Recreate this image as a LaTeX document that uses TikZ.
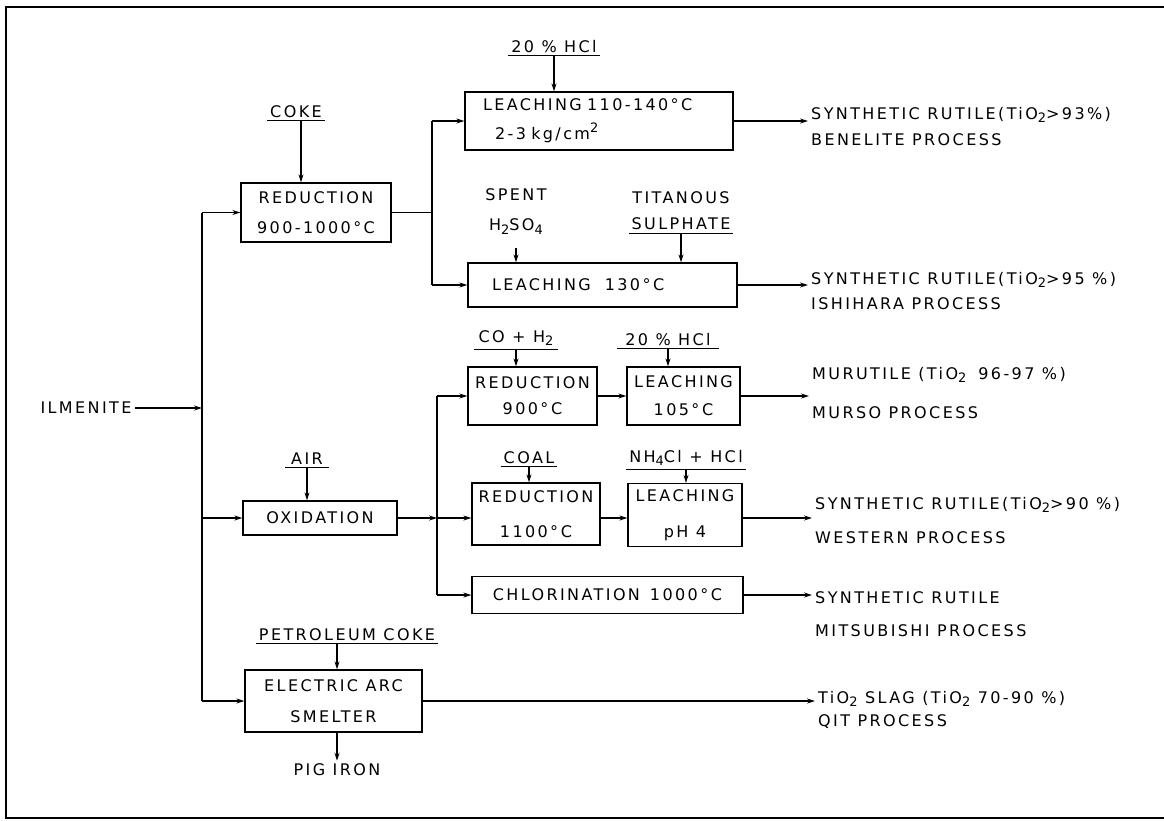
\documentclass[tikz,border=0pt]{standalone}
\usepackage{fontspec}
\setmainfont{DejaVu Sans}[LetterSpace=15]
\usetikzlibrary{arrows.meta}
\newcommand\lowtwo[1]{\raisebox{-0.45ex}{\fontsize{13}{13}\selectfont #1}}
\newcommand\hightwo[1]{\raisebox{0.8ex}{\fontsize{13}{13}\selectfont #1}}
\begin{document}
\begin{tikzpicture}[x=1pt,y=-1pt,
  every node/.style={font=\fontsize{16}{26}\selectfont, inner sep=0pt},
  ln/.style={line width=1.1pt},
  arr/.style={ln,-{Stealth[length=8pt,width=5pt]}},
  box/.style={draw,line width=1.3pt,align=center},
  lab/.style={inner xsep=3pt,inner ysep=3pt,anchor=base},
  txt/.style={anchor=base west, inner sep=0pt},
]
\useasboundingbox (0,0) rectangle (1164,820);
% frame
\draw[line width=1.5pt] (1164,7) -- (6,7) -- (6,818) -- (1164,818);

% ---------- feed and trunk
\node (ilm) at (86,408) {ILMENITE};
\coordinate (tTop) at (202,212.5);
\coordinate (tIlm) at (202,408);
\coordinate (tOx)  at (202,518);
\coordinate (tBot) at (202,701);

% ---------- boxes
\node[box,minimum width=150pt,minimum height=59pt,font=\fontsize{16}{30}\selectfont] (red1) at (316,212.5) {REDUCTION\\900-1000°C};
\node[box,text width=232pt,inner xsep=18pt,minimum height=58pt,align=left,font=\fontsize{16}{29}\selectfont] (leach1) at (599,121) {LEACHING 110-140°C\\\hspace*{12pt}2-3 kg/cm\hightwo{2}};
\node[box,text width=221pt,inner xsep=24pt,minimum height=44pt,align=left] (leach2) at (602.5,285) {LEACHING\hspace{14pt}130°\,C};

\node[box,minimum width=154pt,minimum height=34pt] (ox) at (320,518) {OXIDATION};
\node[box,minimum width=129pt,minimum height=58pt,font=\fontsize{16}{26}\selectfont] (red2) at (532.5,396) {REDUCTION\\900°\,C};
\node[box,minimum width=113pt,minimum height=58pt,font=\fontsize{16}{28}\selectfont] (leach3) at (683.5,396) {LEACHING\\105°\,C};
\node[box,minimum width=128pt,minimum height=62pt,font=\fontsize{16}{35}\selectfont] (red3) at (536,514) {REDUCTION\\1100°\,C};
\node[box,minimum width=114pt,minimum height=63pt,font=\fontsize{16}{36}\selectfont] (leach4) at (685,515) {LEACHING\\pH 4};
\node[box,minimum width=271pt,minimum height=37pt] (chlor) at (607.5,595) {CHLORINATION\hspace{10pt}1000°\,C};

\node[box,minimum width=177pt,minimum height=62pt,font=\fontsize{16}{31}\selectfont] (smelt) at (333.5,701) {ELECTRIC ARC\\SMELTER};

% ---------- reagent labels
\node[lab] (coke) at (296,117) {COKE};
\node[lab] (hcl1) at (554,52) {20 \% HCl};
\node[align=center,font=\fontsize{16}{30}\selectfont] (spent) at (516,212) {SPENT\\H\lowtwo{2}SO\lowtwo{4}};
\node[align=center,inner xsep=2pt,inner ysep=3pt] (tit) at (681,211) {TITANOUS\\SULPHATE};
\node[lab,inner xsep=6pt] (air) at (307,464) {AIR};
\node[lab,inner xsep=4pt] (coh2) at (516,342) {CO + H\lowtwo{2}};
\node[lab,inner xsep=8pt] (hcl2) at (668,345) {20 \% HCl};
\node[lab] (coal) at (529,463) {COAL};
\node[lab] (nh4) at (686,462) {NH\lowtwo{4}Cl + HCl};
\node[lab] (pet) at (347,640) {PETROLEUM COKE};
\node (pig) at (337,770) {PIG IRON};

\foreach \n in {coke,hcl1,tit,air,coh2,hcl2,coal,nh4,pet}
  \draw[ln] (\n.south west) -- (\n.south east);

% ---------- products
\node[txt] (o1a) at (811,119) {SYNTHETIC RUTILE(TiO\lowtwo{2}>93\%)};
\node[txt] (o1b) at (811,145) {BENELITE PROCESS};
\node[txt] (o2a) at (811,284) {SYNTHETIC RUTILE(TiO\lowtwo{2}>95 \%)};
\node[txt] (o2b) at (811,309) {ISHIHARA PROCESS};
\node[txt] (o3a) at (812,379) {MURUTILE (TiO\lowtwo{2}\hspace{12pt}96-97 \%)};
\node[txt] (o3b) at (812,418) {MURSO PROCESS};
\node[txt] (o4a) at (815,509) {SYNTHETIC RUTILE(TiO\lowtwo{2}>90 \%)};
\node[txt] (o4b) at (815,543) {WESTERN PROCESS};
\node[txt] (o5a) at (815,603) {SYNTHETIC RUTILE};
\node[txt] (o5b) at (815,636) {MITSUBISHI PROCESS};
\node[txt] (o6a) at (818,703) {TiO\lowtwo{2} SLAG (TiO\lowtwo{2} 70-90 \%)};
\node[txt] (o6b) at (818,726) {QIT PROCESS};

% ---------- trunk connectors
\draw[arr,shorten <=3pt] (ilm.east) -- (tIlm);
\draw[ln] (tTop) -- (tBot);
\draw[arr] (tTop) -- (red1.west);
\draw[arr] (tOx) -- (ox.west);
\draw[arr] (tBot) -- (smelt.west);

% ---------- upper branch
\coordinate (s1) at (432,212.5);
\coordinate (s1t) at (432,121);
\coordinate (s1b) at (432,285);
\draw[ln] (red1.east) -- (s1);
\draw[ln] (s1t) -- (s1b);
\draw[arr] (s1t) -- (leach1.west);
\draw[arr] (s1b) -- (leach2.west);
\coordinate (cokeA) at ([xshift=5pt]coke.south);
\draw[arr] (cokeA) -- (cokeA |- red1.north);
\draw[arr] (hcl1.south) -- (hcl1.south |- leach1.north);
\draw[arr,shorten <=13pt] (spent.south) -- (spent.south |- leach2.north);
\draw[arr] (tit.south) -- (tit.south |- leach2.north);
\draw[arr,shorten >=3pt] (leach1.east) -- (leach1.east -| o1a.west);
\draw[arr,shorten >=3pt] (leach2.east) -- (leach2.east -| o2a.west);

% ---------- middle branch
\coordinate (s2t) at (437,396);
\coordinate (s2m) at (437,518);
\coordinate (s2b) at (437,595);
\draw[arr] (air.south) -- (air.south |- ox.north);
\draw[arr] (ox.east) -- (s2m);
\draw[ln] (s2t) -- (s2b);
\draw[arr] (s2t) -- (red2.west);
\draw[arr] (s2m) -- (s2m -| red3.west);
\draw[arr] (s2b) -- (chlor.west);
\draw[arr] (coh2.south) -- (coh2.south |- red2.north);
\draw[arr] (hcl2.south) -- (hcl2.south |- leach3.north);
\draw[arr] (coal.south) -- (coal.south |- red3.north);
\draw[arr] (nh4.south) -- (nh4.south |- leach4.north);
\draw[arr] (red2.east) -- (leach3.west);
\draw[arr] (red3.east |- s2m) -- (leach4.west |- s2m);
\draw[arr,shorten >=3pt] (leach3.east) -- (leach3.east -| o3a.west);
\draw[arr,shorten >=3pt] (leach4.east |- s2m) -- (o4a.west |- s2m);
\draw[arr,shorten >=3pt] (chlor.east) -- (chlor.east -| o5a.west);

% ---------- smelter branch
\coordinate (petA) at ([xshift=-10pt]pet.south);
\draw[arr] (petA) -- (petA |- smelt.north);
\draw[arr,shorten >=3pt] (pig.north |- smelt.south) -- (pig.north);
\draw[arr,shorten >=3pt] (smelt.east) -- (smelt.east -| o6a.west);
\end{tikzpicture}
\end{document}
